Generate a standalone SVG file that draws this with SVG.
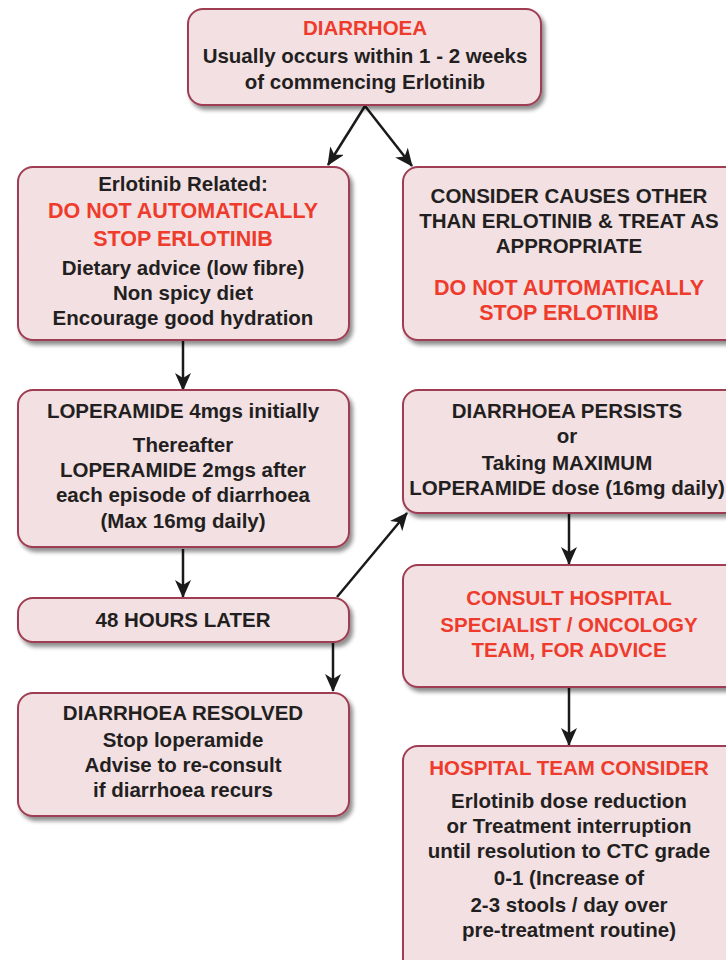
<svg xmlns="http://www.w3.org/2000/svg" width="726" height="960" viewBox="0 0 726 960">
<defs>
<style>
.box{fill:#f2e0e3;stroke:#9e3d52;stroke-width:2;filter:url(#sh)}
text{font-family:"Liberation Sans",Arial,sans-serif;font-weight:bold;text-anchor:middle}
.k{fill:#231f20;font-size:20.5px}
.r{fill:#ee3b2b;font-size:20.5px}
.r2{fill:#ee3b2b;font-size:21.5px}
.c{stroke:#1a1a1a;stroke-width:2.5;fill:none}
</style>
<filter id="sh" x="-10%" y="-10%" width="130%" height="140%">
<feGaussianBlur in="SourceAlpha" stdDeviation="2"/>
<feOffset dx="3" dy="4" result="b"/>
<feComponentTransfer><feFuncA type="linear" slope="0.45"/></feComponentTransfer>
<feMerge><feMergeNode/><feMergeNode in="SourceGraphic"/></feMerge>
</filter>
<marker id="ah" viewBox="0 0 18 16" refX="17" refY="8" markerWidth="18" markerHeight="16" markerUnits="userSpaceOnUse" orient="auto">
<path d="M0,0 L18,8 L0,16 L5,8 Z" fill="#1a1a1a"/>
</marker>
</defs>
<rect width="726" height="960" fill="#ffffff"/>

<g id="connectors">
<line class="c" x1="365" y1="106" x2="328" y2="165" marker-end="url(#ah)"/>
<line class="c" x1="365" y1="106" x2="412" y2="166" marker-end="url(#ah)"/>
<line class="c" x1="183" y1="341" x2="183" y2="390" marker-end="url(#ah)"/>
<line class="c" x1="183" y1="549" x2="183" y2="597" marker-end="url(#ah)"/>
<line class="c" x1="337" y1="597" x2="407" y2="513" marker-end="url(#ah)"/>
<line class="c" x1="333" y1="643" x2="333" y2="691" marker-end="url(#ah)"/>
<line class="c" x1="569" y1="514" x2="569" y2="564" marker-end="url(#ah)"/>
<line class="c" x1="569" y1="688" x2="569" y2="745" marker-end="url(#ah)"/>
</g>

<g id="n-diarrhoea">
<rect class="box" x="188" y="9" width="353" height="96" rx="15"/>
<text class="r" x="365" y="35">DIARRHOEA</text>
<text class="k" x="365" y="63">Usually occurs within 1 - 2 weeks</text>
<text class="k" x="365" y="89">of commencing Erlotinib</text>
</g>

<g id="n-related">
<rect class="box" x="18" y="167" width="331" height="173" rx="15"/>
<text class="k" x="183" y="191">Erlotinib Related:</text>
<text class="r2" x="183" y="218">DO NOT AUTOMATICALLY</text>
<text class="r2" x="183" y="246">STOP ERLOTINIB</text>
<text class="k" x="183" y="275">Dietary advice (low fibre)</text>
<text class="k" x="183" y="300">Non spicy diet</text>
<text class="k" x="183" y="325">Encourage good hydration</text>
</g>

<g id="n-other">
<rect class="box" x="403" y="167" width="340" height="173" rx="15"/>
<text class="k" x="569" y="203">CONSIDER CAUSES OTHER</text>
<text class="k" x="569" y="228">THAN ERLOTINIB &amp; TREAT AS</text>
<text class="k" x="569" y="253">APPROPRIATE</text>
<text class="r2" x="569" y="295">DO NOT AUTOMATICALLY</text>
<text class="r2" x="569" y="320">STOP ERLOTINIB</text>
</g>

<g id="n-loperamide">
<rect class="box" x="18" y="390" width="331" height="157" rx="15"/>
<text class="k" x="183" y="418">LOPERAMIDE 4mgs initially</text>
<text class="k" x="183" y="452">Thereafter</text>
<text class="k" x="183" y="477">LOPERAMIDE 2mgs after</text>
<text class="k" x="183" y="502">each episode of diarrhoea</text>
<text class="k" x="183" y="528">(Max 16mg daily)</text>
</g>

<g id="n-persists">
<rect class="box" x="403" y="390" width="340" height="123" rx="15"/>
<text class="k" x="567" y="418">DIARRHOEA PERSISTS</text>
<text class="k" x="567" y="443">or</text>
<text class="k" x="567" y="470">Taking MAXIMUM</text>
<text class="k" x="567" y="495">LOPERAMIDE dose (16mg daily)</text>
</g>

<g id="n-48h">
<rect class="box" x="18" y="598" width="331" height="44" rx="15"/>
<text class="k" x="183" y="627">48 HOURS LATER</text>
</g>

<g id="n-consult">
<rect class="box" x="403" y="565" width="340" height="122" rx="15"/>
<text class="r" x="569" y="605">CONSULT HOSPITAL</text>
<text class="r" x="569" y="632">SPECIALIST / ONCOLOGY</text>
<text class="r" x="569" y="657">TEAM, FOR ADVICE</text>
</g>

<g id="n-resolved">
<rect class="box" x="18" y="693" width="331" height="123" rx="15"/>
<text class="k" x="183" y="720">DIARRHOEA RESOLVED</text>
<text class="k" x="183" y="747">Stop loperamide</text>
<text class="k" x="183" y="772">Advise to re-consult</text>
<text class="k" x="183" y="797">if diarrhoea recurs</text>
</g>

<g id="n-hospital">
<rect class="box" x="403" y="746" width="340" height="230" rx="15"/>
<text class="r" x="569" y="775">HOSPITAL TEAM CONSIDER</text>
<text class="k" x="569" y="808">Erlotinib dose reduction</text>
<text class="k" x="569" y="833">or Treatment interruption</text>
<text class="k" x="569" y="858">until resolution to CTC grade</text>
<text class="k" x="569" y="885">0-1 (Increase of</text>
<text class="k" x="569" y="912">2-3 stools / day over</text>
<text class="k" x="569" y="937">pre-treatment routine)</text>
</g>
</svg>
